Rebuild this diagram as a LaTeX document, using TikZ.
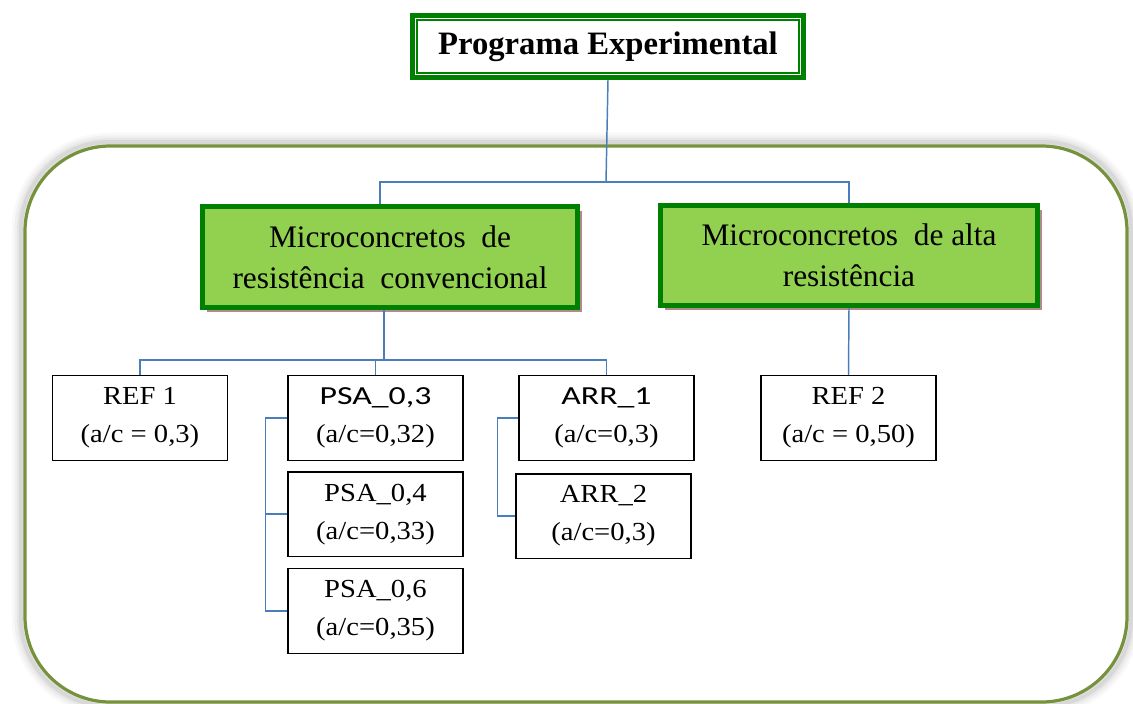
\documentclass[tikz,border=0pt]{standalone}
\usepackage{fontspec}
\setmainfont{Liberation Serif}
\newfontfamily\boxserif[FakeStretch=1.1]{Liberation Serif}
\newfontfamily\boxsans[FakeStretch=1.3]{Carlito}
\usetikzlibrary{positioning,shadows}

\definecolor{titlegreen}{RGB}{0,128,0}
\definecolor{groupfill}{RGB}{146,208,80}
\definecolor{framegreen}{RGB}{118,146,60}
\definecolor{linkblue}{RGB}{74,126,187}
\definecolor{shadowbrown}{RGB}{178,138,138}

\begin{document}
\begin{tikzpicture}[
  x=0.75pt, y=-0.75pt,
  title/.style={draw=titlegreen, line width=3.75pt, fill=white,
                minimum width=293pt, minimum height=46.5pt,
                font=\fontsize{24.5}{30}\selectfont\bfseries},
  group/.style={draw=titlegreen, line width=3.75pt, fill=groupfill, align=center,
                minimum width=281pt, minimum height=76pt,
                font=\fontsize{23.5}{31}\selectfont,
                drop shadow={shadow xshift=3.5pt, shadow yshift=-3.5pt,
                             fill=shadowbrown, opacity=1}},
  leaf/.style={draw, line width=1.1pt, fill=white, align=center,
               minimum width=131pt, minimum height=63.5pt, inner sep=1pt,
               font=\fontsize{19.5}{28.5}\boxserif},
  link/.style={draw=linkblue, line width=1.1pt},
]
\useasboundingbox (0,0) rectangle (1133,704);

% outer frame with a soft glow
\foreach \w/\o in {14pt/0.025, 10pt/0.035, 6pt/0.045, 3pt/0.06}
  \draw[black, line width=\w, opacity=\o, rounded corners=66pt]
    (21,142) rectangle (1131,706);
\fill[white, rounded corners=64pt] (25,146) rectangle (1127,702);
\draw[framegreen, line width=2.4pt, rounded corners=64pt]
  (25,146) rectangle (1127,702);

% top level
\node[title] (prog) at (608,46.5) {Programa Experimental};
\draw[titlegreen, line width=1.1pt]
  ([shift={(7,7)}]prog.north west) rectangle ([shift={(-7,-7)}]prog.south east);

\node[group] (mconv) at (390,257) {Microconcretos\ \ de\\resistência\ \ convencional};
\node[group, minimum width=283pt, minimum height=75pt] (malta) at (849,255.5)
  {Microconcretos\ \ de alta\\resistência};

% leaves
\node[leaf] (ref1) at (140,418) {REF 1\\(a/c = 0,3)};
\node[leaf] (psa3) at (375.5,418) {{\boxsans PSA\_0,3}\\(a/c=0,32)};
\node[leaf, below=7.5pt of psa3] (psa4) {PSA\_0,4\\(a/c=0,33)};
\node[leaf, below=8pt of psa4] (psa6) {PSA\_0,6\\(a/c=0,35)};
\node[leaf] (arr1) at (606.5,418) {{\boxsans ARR\_1}\\(a/c=0,3)};
\node[leaf, below=9pt of arr1, xshift=-2.25pt] (arr2) {ARR\_2\\(a/c=0,3)};
\node[leaf] (ref2) at (848.5,418) {REF 2\\(a/c = 0,50)};

% connectors
\coordinate (bus1) at (606,182);
\coordinate (bus2) at (384,360);
\draw[link] (prog.south) -- (bus1);
\draw[link] (bus1) -| ([xshift=-7.5pt]mconv.north);
\draw[link] (bus1) -| (malta.north);
\draw[link] ([xshift=-4.5pt]mconv.south) -- (bus2);
\draw[link] (bus2) -| (ref1.north);
\draw[link] (bus2) -| (psa3.north);
\draw[link] (bus2) -| (arr1.north);
\draw[link] (malta.south) -- (ref2.north);
\draw[link] (psa3.west) -- ++(-22,0) |- (psa6.west);
\draw[link] (psa4.west) -- ++(-22,0);
\draw[link] (arr1.west) -- ++(-21,0) |- (arr2.west);
\end{tikzpicture}
\end{document}
